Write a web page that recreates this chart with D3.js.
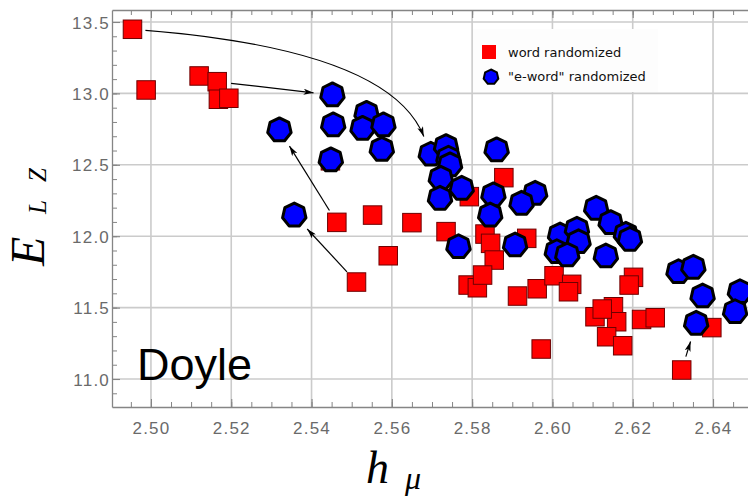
<!DOCTYPE html>
<html><head><meta charset="utf-8">
<script src="https://cdn.jsdelivr.net/npm/d3@7"></script>
<style>
html,body{margin:0;padding:0;background:#fff;}
svg{display:block;}
</style></head>
<body>
<svg id="chart" width="748" height="497"></svg>
<script>
// ---- data ----
const wordX = [2.4954,2.4988,2.5120,2.5165,2.5168,2.5194,2.5463,2.5552,2.5650,2.5591,2.5512,2.5735,2.5793,2.5790,2.5813,2.5879,2.5832,2.5846,2.5936,2.5855,2.5826,2.5913,2.5962,2.6004,2.6048,2.6040,2.6106,2.5972,2.6202,2.6191,2.6152,2.6160,2.6135,2.6175,2.6222,2.6256,2.6397,2.6322,2.5447,2.6124];
const wordY = [13.449,13.024,13.122,13.082,12.959,12.966,12.097,12.148,12.095,11.863,11.679,12.032,12.277,11.658,11.639,12.410,12.015,11.950,11.985,11.833,11.728,11.581,11.632,11.723,11.663,11.611,11.436,11.210,11.712,11.658,11.506,11.401,11.296,11.233,11.417,11.429,11.360,11.063,12.528,11.490];
const ewordX = [2.5452,2.5454,2.5448,2.5320,2.5357,2.5537,2.5527,2.5579,2.5575,2.5697,2.5735,2.5741,2.5745,2.5722,2.5720,2.5774,2.5766,2.5861,2.5853,2.5845,2.5957,2.5923,2.5907,2.6109,2.6145,2.6183,2.6193,2.6019,2.6061,2.6065,2.6011,2.6037,2.6133,2.6314,2.6351,2.6374,2.6358,2.6467,2.6455];
const ewordY = [12.989,12.779,12.534,12.744,12.148,12.860,12.755,12.779,12.608,12.574,12.627,12.546,12.499,12.405,12.265,12.335,11.926,12.604,12.289,12.148,12.300,12.230,11.938,12.195,12.095,12.013,11.978,12.008,12.048,11.961,11.891,11.868,11.861,11.751,11.782,11.581,11.390,11.611,11.471];
// arrows: [word index, e-word index, curve control x, curve control y (data units) or null]
const arrows = [[0, 9, 2.5595, 13.304],[3, 0, null, null],[6, 3, null, null],[10, 4, null, null],[37, 36, null, null]];
const xTicks = [2.50,2.52,2.54,2.56,2.58,2.60,2.62,2.64];
const yTicks = [11.0,11.5,12.0,12.5,13.0,13.5];
const seriesNames = ["word randomized", "\"e-word\" randomized"];
const panelLabel = "Doyle";

// ---- layout ----
const svg = d3.select("#chart");
const L = 112, R = 760, T = 10, B = 407;
const x = d3.scaleLinear().domain([2.4903, 2.6517]).range([L, R]);
const y = d3.scaleLinear().domain([10.804, 13.584]).range([B, T]);

const xMinor = d3.range(2.490, 2.655, 0.005).filter(v => x(v) >= L && x(v) <= R);
const yMinor = d3.range(10.8, 13.6, 0.1).filter(v => y(v) <= B && y(v) >= T);

// grid
const g = svg.append("g");
g.selectAll(".gx").data(xTicks).join("line")
  .attr("x1", d => x(d)).attr("x2", d => x(d)).attr("y1", T).attr("y2", B)
  .attr("stroke", "#cbcbcb").attr("stroke-width", 1.6);
g.selectAll(".gy").data(yTicks).join("line")
  .attr("y1", d => y(d)).attr("y2", d => y(d)).attr("x1", L).attr("x2", R)
  .attr("stroke", "#cbcbcb").attr("stroke-width", 1.6);

// axes with inward ticks
const axisColor = "#858585";
function styleAxis(sel){
  sel.select(".domain").attr("stroke", axisColor).attr("stroke-width", 1.3);
  sel.selectAll(".tick line").attr("stroke", axisColor).attr("stroke-width", 1.1);
  sel.selectAll("text").attr("fill", "#6a6a6a").attr("font-family", "Liberation Sans, Arial, sans-serif")
     .attr("font-size", 17).attr("letter-spacing", "1.2px");
}
const majorFmtX = d3.format(".2f"), majorFmtY = d3.format(".1f");
// minor ticks
svg.append("g").attr("transform", `translate(0,${B})`)
  .call(d3.axisBottom(x).tickValues(xMinor).tickSize(-5).tickFormat(""))
  .call(s => { s.select(".domain").remove(); s.selectAll(".tick line").attr("stroke", axisColor); });
svg.append("g").attr("transform", `translate(0,${T})`)
  .call(d3.axisTop(x).tickValues(xMinor).tickSize(-5).tickFormat(""))
  .call(s => { s.select(".domain").remove(); s.selectAll(".tick line").attr("stroke", axisColor); });
svg.append("g").attr("transform", `translate(${L},0)`)
  .call(d3.axisLeft(y).tickValues(yMinor).tickSize(-5).tickFormat(""))
  .call(s => { s.select(".domain").remove(); s.selectAll(".tick line").attr("stroke", axisColor); });

const xAxis = svg.append("g").attr("transform", `translate(0,${B})`)
  .call(d3.axisBottom(x).tickValues(xTicks).tickSize(-8).tickSizeOuter(0).tickPadding(15).tickFormat(majorFmtX));
styleAxis(xAxis);
const xTop = svg.append("g").attr("transform", `translate(0,${T})`)
  .call(d3.axisTop(x).tickValues(xTicks).tickSize(-8).tickSizeOuter(0).tickFormat(""));
styleAxis(xTop);
const yAxis = svg.append("g").attr("transform", `translate(${L},0)`)
  .call(d3.axisLeft(y).tickValues(yTicks).tickSize(-8).tickSizeOuter(0).tickPadding(2).tickFormat(majorFmtY));
styleAxis(yAxis);
yAxis.selectAll("text").attr("dy", "0.36em");

// heptagon generator
function heptagon(r){
  const pts = d3.range(7).map(i => {
    const a = -Math.PI/2 + i * 2*Math.PI/7;
    return [r*Math.cos(a), r*Math.sin(a)];
  });
  return d3.line()(pts) + "Z";
}

// red squares
const S = 18.5;
const wordPts = wordX.map((v,i) => ({x: v, y: wordY[i]}));
const ewordPts = ewordX.map((v,i) => ({x: v, y: ewordY[i]}));
svg.append("g").selectAll("rect").data(wordPts).join("rect")
  .attr("x", d => x(d.x) - S/2).attr("y", d => y(d.y) - S/2)
  .attr("width", S).attr("height", S)
  .attr("fill", "#ff0000").attr("stroke", "#6e0000").attr("stroke-width", 1);

// blue heptagons
svg.append("g").selectAll("path").data(ewordPts).join("path")
  .attr("transform", d => `translate(${x(d.x)},${y(d.y)})`)
  .attr("d", heptagon(12))
  .attr("fill", "#0000ff").attr("stroke", "#000").attr("stroke-width", 3).attr("stroke-linejoin", "round");

// arrows
const defs = svg.append("defs");
defs.append("marker").attr("id", "ah").attr("markerUnits", "userSpaceOnUse")
  .attr("viewBox", "0 0 10 6").attr("refX", 10).attr("refY", 3)
  .attr("markerWidth", 10).attr("markerHeight", 6).attr("orient", "auto")
  .append("path").attr("d", "M0,0 L10,3 L0,6 L2.5,3 Z").attr("fill", "#000");

const ag = svg.append("g");
arrows.forEach(a => {
  const p0 = [x(wordX[a[0]]), y(wordY[a[0]])];
  const p2 = [x(ewordX[a[1]]), y(ewordY[a[1]])];
  const unit = (from, to) => { const dx = to[0]-from[0], dy = to[1]-from[1]; const l = Math.hypot(dx, dy); return [dx/l, dy/l]; };
  if (a[2] !== null) {
    const c = [x(a[2]), y(a[3])];
    const u0 = unit(p0, c), u2 = unit(p2, c);
    const s = [p0[0] + 13*u0[0], p0[1] + 13*u0[1]];
    const e = [p2[0] + 19*u2[0], p2[1] + 19*u2[1]];
    const p = d3.path(); p.moveTo(s[0], s[1]); p.quadraticCurveTo(c[0], c[1], e[0], e[1]);
    ag.append("path").attr("d", p.toString()).attr("fill", "none").attr("stroke", "#000").attr("stroke-width", 1.2).attr("marker-end", "url(#ah)");
  } else {
    const u = unit(p0, p2);
    const s = [p0[0] + 14*u[0], p0[1] + 14*u[1]];
    const e = [p2[0] - 19*u[0], p2[1] - 19*u[1]];
    ag.append("line").attr("x1", s[0]).attr("y1", s[1]).attr("x2", e[0]).attr("y2", e[1])
      .attr("stroke", "#000").attr("stroke-width", 1.2).attr("marker-end", "url(#ah)");
  }
});

// legend
const lg = svg.append("g");
lg.append("rect").attr("x", 473).attr("y", 29).attr("width", 185).attr("height", 63).attr("fill", "#fdfdfd");
lg.append("rect").attr("x", 482).attr("y", 45).attr("width", 14).attr("height", 14).attr("fill", "#ff0000");
lg.append("path").attr("transform", "translate(491,77)").attr("d", heptagon(7.5)).attr("fill", "#0000ff").attr("stroke", "#000").attr("stroke-width", 2);
lg.selectAll("text").data(seriesNames).join("text")
  .attr("x", 508).attr("y", (d,i) => 57 + i*24)
  .attr("font-family", "DejaVu Sans, sans-serif").attr("font-size", 13).attr("fill", "#111")
  .text(d => d);

// panel label
svg.append("text").attr("x", 137).attr("y", 380)
  .attr("font-family", "Liberation Sans, Arial, sans-serif").attr("font-size", 45).attr("fill", "#000")
  .text(panelLabel);

// axis titles
const yl = svg.append("text").attr("transform", "translate(44,266) rotate(-90)")
  .attr("font-family", "Liberation Serif, Times New Roman, serif").attr("font-style", "italic").attr("fill", "#000");
yl.append("tspan").attr("x", 0).attr("y", 0).attr("font-size", 48).text("E");
yl.append("tspan").attr("x", 52).attr("y", 2).attr("font-size", 25).text("L");
yl.append("tspan").attr("x", 84).attr("y", 2).attr("font-size", 25).text("Z");

const xl = svg.append("text")
  .attr("font-family", "Liberation Serif, Times New Roman, serif").attr("font-style", "italic").attr("fill", "#000");
xl.append("tspan").attr("x", 366).attr("y", 483).attr("font-size", 46).text("h");
xl.append("tspan").attr("x", 405).attr("y", 489).attr("font-size", 32).text("μ");
</script>
</body></html>
